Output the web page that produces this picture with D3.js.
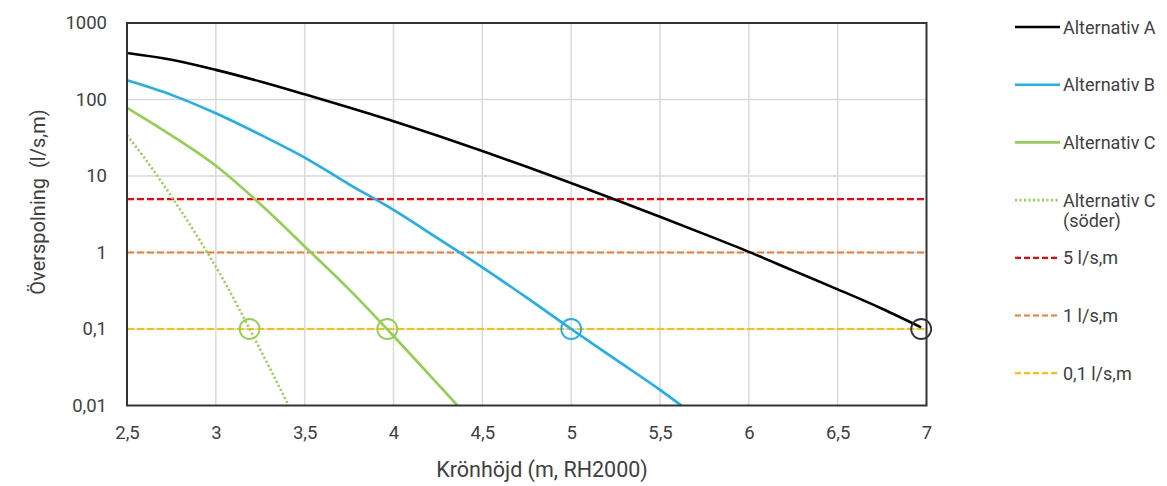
<!DOCTYPE html>
<html>
<head>
<meta charset="utf-8">
<script src="https://cdn.jsdelivr.net/npm/d3@7"></script>
<style>
  body { margin: 0; background: #fff; }
  text { font-family: Roboto, "Noto Sans", sans-serif; fill: #404040; }
</style>
</head>
<body>
<div id="chart"></div>
<script>
// Krönhöjd (m) vs överspolning (l/s,m)
const altA_x = [2.5, 2.75, 3, 3.25, 3.5, 3.75, 4, 4.25, 4.5, 4.75, 5, 5.25, 5.5, 5.75, 6, 6.25, 6.5, 6.75, 6.97];
const altA_y = [405, 331, 244, 172, 117, 78.5, 52, 33.5, 21.2, 13.2, 8.07, 4.9, 2.93, 1.74, 1.02, 0.58, 0.33, 0.184, 0.105];

const altB_x = [2.5, 2.75, 3, 3.25, 3.5, 3.75, 4, 4.25, 4.5, 4.75, 5, 5.25, 5.5, 5.62];
const altB_y = [178, 115, 66, 34.7, 17.4, 7.8, 3.6, 1.53, 0.64, 0.257, 0.1, 0.04, 0.016, 0.01];

const altC_x = [2.5, 2.75, 3, 3.25, 3.5, 3.75, 4, 4.25, 4.36];
const altC_y = [78, 34, 13.6, 4.3, 1.2, 0.33, 0.081, 0.019, 0.01];

const altCs_x = [2.5, 2.6, 2.75, 2.9, 3.05, 3.19, 3.41];
const altCs_y = [34, 17, 5.4, 1.57, 0.41, 0.1, 0.01];

const limits = [5, 1, 0.1];
const limitLabels = ["5 l/s,m", "1 l/s,m", "0,1 l/s,m"];
const limitColors = ["#ff0000", "#f07c2c", "#ffc000"];

const markX = [3.19, 3.965, 5.0, 6.97];
const markY = [0.1, 0.1, 0.1, 0.1];
const markColors = ["#92d050", "#92d050", "#1cb0ec", "#333333"];

const xTicks = [2.5, 3, 3.5, 4, 4.5, 5, 5.5, 6, 6.5, 7];
const yTicks = [0.01, 0.1, 1, 10, 100, 1000];
const yTickLabels = ["0,01", "0,1", "1", "10", "100", "1000"];

const series = [
    {name: "Alternativ A", xs: altA_x, ys: altA_y, color: "#000000", dash: null},
    {name: "Alternativ B", xs: altB_x, ys: altB_y, color: "#1cb0ec", dash: null},
    {name: "Alternativ C", xs: altC_x, ys: altC_y, color: "#92d050", dash: null},
    {name: "Alternativ C|(söder)", xs: altCs_x, ys: altCs_y, color: "#92d050", dash: "2,2.5"}
];

const width = 1167, height = 486;
const plot = {left: 127, right: 926.5, top: 23, bottom: 405.5};

const svg = d3.select("#chart").append("svg")
    .attr("width", width)
    .attr("height", height);

const x = d3.scaleLinear().domain([2.5, 7]).range([plot.left, plot.right]);
const y = d3.scaleLog().domain([0.01, 1000]).range([plot.bottom, plot.top]);

// gridlines
svg.append("g")
    .selectAll("line")
    .data(xTicks.slice(1, -1))
    .enter().append("line")
        .attr("x1", d => x(d)).attr("x2", d => x(d))
        .attr("y1", plot.top).attr("y2", plot.bottom)
        .attr("stroke", "#d9d9d9").attr("stroke-width", 1.5);
svg.append("g")
    .selectAll("line")
    .data(yTicks.slice(1, -1))
    .enter().append("line")
        .attr("x1", plot.left).attr("x2", plot.right)
        .attr("y1", d => y(d)).attr("y2", d => y(d))
        .attr("stroke", "#d9d9d9").attr("stroke-width", 1.5);

// axes (labels only, no tick marks)
const xAxis = svg.append("g")
    .attr("transform", `translate(0,${plot.bottom})`)
    .call(d3.axisBottom(x).tickValues(xTicks).tickSize(0).tickPadding(20)
        .tickFormat(d => String(d).replace(".", ",")));
xAxis.select(".domain").remove();
xAxis.selectAll("text").attr("font-size", 18.5).attr("font-family", "Roboto").attr("fill", "#404040");

const yAxis = svg.append("g")
    .attr("transform", `translate(${plot.left},0)`)
    .call(d3.axisLeft(y).tickValues(yTicks).tickSize(0).tickPadding(20)
        .tickFormat((d, i) => yTickLabels[i]));
yAxis.select(".domain").remove();
yAxis.selectAll("text").attr("font-size", 18.5).attr("font-family", "Roboto").attr("fill", "#404040");

// limit lines
svg.append("g")
    .selectAll("line")
    .data(limits)
    .enter().append("line")
        .attr("x1", plot.left).attr("x2", plot.right)
        .attr("y1", d => y(d)).attr("y2", d => y(d))
        .attr("stroke", (d, i) => limitColors[i])
        .attr("stroke-width", 2.2)
        .attr("stroke-dasharray", "7,3");

// series curves
const line = d3.line()
    .x(d => x(d[0]))
    .y(d => y(d[1]))
    .curve(d3.curveMonotoneX);

svg.append("g")
    .selectAll("path")
    .data(series)
    .enter().append("path")
        .attr("d", s => line(s.xs.map((v, i) => [v, s.ys[i]])))
        .attr("fill", "none")
        .attr("stroke", s => s.color)
        .attr("stroke-width", 2.6)
        .attr("stroke-dasharray", s => s.dash);

// circle markers at 0,1 l/s,m
svg.append("g")
    .selectAll("circle")
    .data(markX)
    .enter().append("circle")
        .attr("cx", d => x(d))
        .attr("cy", (d, i) => y(markY[i]))
        .attr("r", 10)
        .attr("fill", "none")
        .attr("stroke", (d, i) => markColors[i])
        .attr("stroke-width", 1.8);

// plot border
svg.append("rect")
    .attr("x", plot.left).attr("y", plot.top)
    .attr("width", plot.right - plot.left)
    .attr("height", plot.bottom - plot.top)
    .attr("fill", "none")
    .attr("stroke", "#333333")
    .attr("stroke-width", 2);

// axis titles
svg.append("text")
    .attr("x", 542)
    .attr("y", 477)
    .attr("text-anchor", "middle")
    .attr("font-size", 21.5)
    .text("Krönhöjd (m, RH2000)");

svg.append("text")
    .attr("transform", "translate(45,202) rotate(-90)")
    .attr("text-anchor", "middle")
    .attr("font-size", 20)
    .style("white-space", "pre")
    .text("Överspolning  (l/s,m)");

// legend
const legendItems = series.map(s => ({label: s.name, color: s.color, dash: s.dash, width: 2.6}))
    .concat(limits.map((d, i) => ({label: limitLabels[i], color: limitColors[i], dash: "6,3", width: 2.2})));

const legend = svg.append("g").attr("transform", "translate(1015,27)");
const rows = legend.selectAll("g")
    .data(legendItems)
    .enter().append("g")
        .attr("transform", (d, i) => `translate(0,${i * 57.7})`);

rows.append("line")
    .attr("x1", 0).attr("x2", 45)
    .attr("stroke", d => d.color)
    .attr("stroke-width", d => d.width)
    .attr("stroke-dasharray", d => d.dash);

rows.each(function(d) {
    const parts = d.label.split("|");
    const t = d3.select(this).append("text")
        .attr("x", 48)
        .attr("y", 6.5)
        .attr("font-size", 18);
    parts.forEach((p, j) => {
        t.append("tspan")
            .attr("x", 48)
            .attr("dy", j === 0 ? 0 : 20)
            .text(p);
    });
});
</script>
</body>
</html>
